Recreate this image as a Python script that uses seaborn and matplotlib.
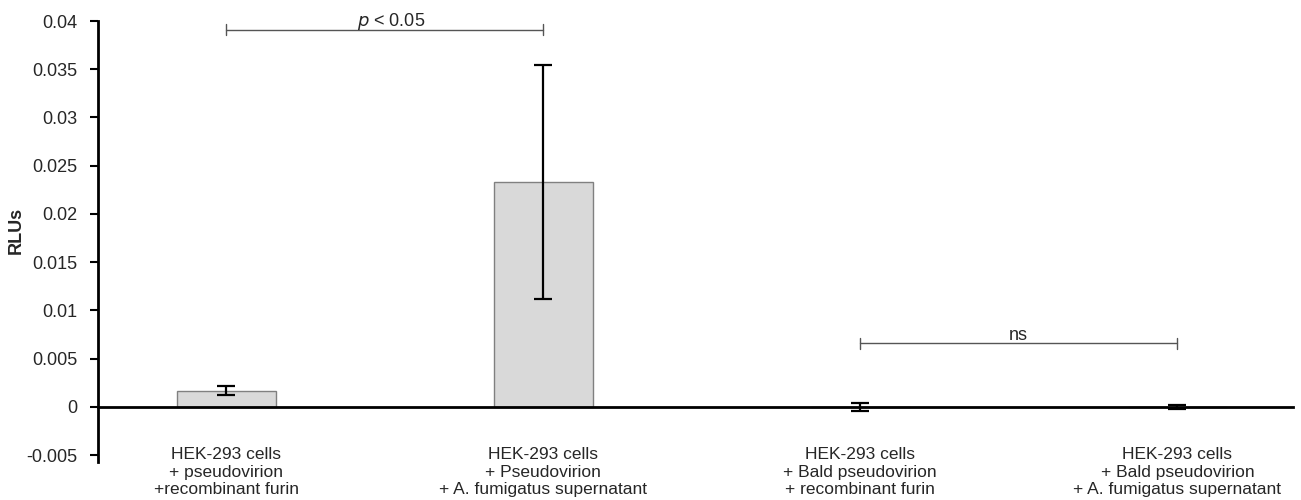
import pandas as pd
import matplotlib.pyplot as plt
import seaborn as sns

condicoes = ["HEK-293 cells\n+ pseudovirion\n+recombinant furin",
             "HEK-293 cells\n+ Pseudovirion\n+ A. fumigatus supernatant",
             "HEK-293 cells\n+ Bald pseudovirion\n+ recombinant furin",
             "HEK-293 cells\n+ Bald pseudovirion\n+ A. fumigatus supernatant"]
rlus = [0.0017, 0.0233, 0.0, 0.0]
erro = [0.0005, 0.0121, 0.0004, 0.0002]
y_ticks = [-0.005, 0, 0.005, 0.01, 0.015, 0.02, 0.025, 0.03, 0.035, 0.04]
y_tick_labels = ["-0.005", "0", "0.005", "0.01", "0.015", "0.02", "0.025", "0.03", "0.035", "0.04"]

df = pd.DataFrame({"condicao": condicoes, "rlu": rlus})

sns.set_style("white")
plt.rcParams['font.family'] = ['Liberation Sans', 'DejaVu Sans']

fig = plt.figure(figsize=(13.01, 5), dpi=100)
ax = fig.add_axes([0.0753, 0.076, 0.9186, 0.882])

sns.barplot(data=df, x="condicao", y="rlu", color="#d9d9d9", edgecolor="#808080",
            linewidth=1, width=0.312, errorbar=None, saturation=1, ax=ax)
ax.errorbar(range(len(rlus)), rlus, yerr=erro, fmt="none", ecolor="black",
            elinewidth=1.6, capsize=6.5, capthick=1.6, zorder=5)

ax.set_xlim(-0.404, 3.365)
ax.set_ylim(-0.0057, 0.04)
ax.set_yticks(y_ticks)
ax.set_yticklabels(y_tick_labels, fontsize=13)
ax.set_ylabel("RLUs", fontsize=13, fontweight="bold")
ax.yaxis.set_label_coords(-0.061, 0.526)
ax.set_xlabel("")
ax.tick_params(axis="y", direction="out", length=6, width=1.5, color="black", left=True, pad=8.5)
ax.tick_params(axis="x", length=0, pad=29, labelsize=12.5)
for lbl in ax.get_xticklabels():
    lbl.set_linespacing(1.3)

for s in ["top", "right"]:
    ax.spines[s].set_visible(False)
ax.spines["left"].set_linewidth(2)
ax.spines["left"].set_color("black")
ax.spines["bottom"].set_position(("data", 0))
ax.spines["bottom"].set_linewidth(2)
ax.spines["bottom"].set_color("black")

# barras de significancia
def colchete(x1, x2, y, texto, dy=0.0004, dx=0.0):
    ax.plot([x1, x2], [y, y], color="#555555", lw=1)
    ax.plot([x1, x1], [y - 0.0006, y + 0.0006], color="#555555", lw=1)
    ax.plot([x2, x2], [y - 0.0006, y + 0.0006], color="#555555", lw=1)
    ax.text((x1 + x2) / 2 + dx, y + dy, texto, ha="center", va="baseline", fontsize=13)

colchete(0, 1, 0.0391, r"$p$ < 0.05", dy=0.0004, dx=0.02)
colchete(2, 3, 0.0066, "ns", dy=0.0003)

plt.savefig("out.png", dpi=100)
